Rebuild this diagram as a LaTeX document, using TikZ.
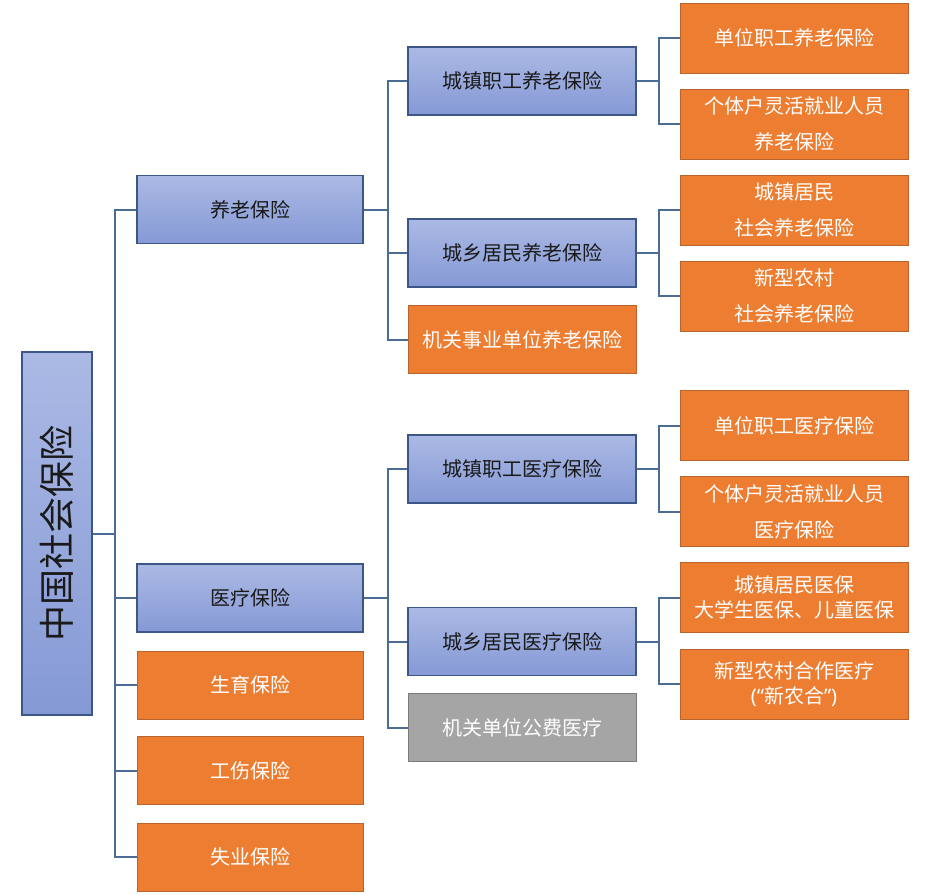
\documentclass[tikz,border=0pt]{standalone}
\usepackage{fontspec}
\usepackage{graphicx}
\setmainfont{Noto Sans CJK SC}
\newfontfamily\latinfont{Noto Sans}
\definecolor{btop}{HTML}{ABB9E4}
\definecolor{bbot}{HTML}{8599D5}
\definecolor{bline}{HTML}{3D5688}
\definecolor{ofill}{HTML}{ED7D31}
\definecolor{oline}{HTML}{B8642C}
\definecolor{gfill}{HTML}{A5A5A5}
\definecolor{gline}{HTML}{7B7B7B}
\definecolor{conn}{HTML}{4C6C98}
\definecolor{dtext}{HTML}{1A1A1A}
\tikzset{
  box/.style={rectangle, inner sep=0pt, align=center, font=\fontsize{20}{36}\selectfont},
  bluebox/.style={box, top color=btop, bottom color=bbot, draw=bline, line width=1.2pt, text=dtext},
  orangebox/.style={box, fill=ofill, draw=oline, line width=1pt, text=white},
  graybox/.style={box, fill=gfill, draw=gline, line width=1pt, text=white},
  lone/.style={minimum width=226, minimum height=68},
  ltwo/.style={minimum width=228, minimum height=68},
  lthree/.style={minimum width=228, minimum height=70},
  tight/.style={font=\fontsize{20}{25}\selectfont},
  conline/.style={draw=conn, line width=2pt}
}
\begin{document}
\begin{tikzpicture}[x=1pt,y=-1pt]
\useasboundingbox (0,0) rectangle (930,895);
% root
\node[bluebox, minimum width=70, minimum height=363, font=\fontsize{36}{40}\selectfont] (root) at (57,533.5) {\rotatebox{90}{中国社会保险}};
% level 1
\node[bluebox, lone] (yl) at (250,209.5) {养老保险};
\node[bluebox, lone] (yi) at (250,598) {医疗保险};
\node[orangebox, lone] (sy) at (250,685) {生育保险};
\node[orangebox, lone] (gs) at (250,770.5) {工伤保险};
\node[orangebox, lone] (sye) at (250,857) {失业保险};
% level 2
\node[bluebox, ltwo] (czyl) at (522,81) {城镇职工养老保险};
\node[bluebox, ltwo] (cxyl) at (522,253) {城乡居民养老保险};
\node[orangebox, ltwo] (jgyl) at (522,339.5) {机关事业单位养老保险};
\node[bluebox, ltwo] (czyi) at (522,469) {城镇职工医疗保险};
\node[bluebox, ltwo] (cxyi) at (522,641.5) {城乡居民医疗保险};
\node[graybox, ltwo] (jgyi) at (522,727.5) {机关单位公费医疗};
% level 3
\node[orangebox, lthree] (a1) at (794,38) {单位职工养老保险};
\node[orangebox, lthree] (a2) at (794,124) {个体户灵活就业人员\\养老保险};
\node[orangebox, lthree] (a3) at (794,210) {城镇居民\\社会养老保险};
\node[orangebox, lthree] (a4) at (794,296) {新型农村\\社会养老保险};
\node[orangebox, lthree] (b1) at (794,425.5) {单位职工医疗保险};
\node[orangebox, lthree] (b2) at (794,511.5) {个体户灵活就业人员\\医疗保险};
\node[orangebox, lthree, tight] (b3) at (794,597.5) {城镇居民医保\\大学生医保、儿童医保};
\node[orangebox, lthree, tight] (b4) at (794,684) {新型农村合作医疗\\{\latinfont(“}新农合{\latinfont”)}};
% connectors level 1
\foreach \c in {yl,yi,sy,gs,sye}
  \draw[conline] (root.east) -- ++(22,0) |- (\c.west);
% connectors level 2
\foreach \c in {czyl,cxyl,jgyl}
  \draw[conline] (yl.east) -- ++(24,0) |- (\c.west);
\foreach \c in {czyi,cxyi,jgyi}
  \draw[conline] (yi.east) -- ++(24,0) |- (\c.west);
% connectors level 3
\foreach \c in {a1,a2}
  \draw[conline] (czyl.east) -- ++(22,0) |- (\c.west);
\foreach \c in {a3,a4}
  \draw[conline] (cxyl.east) -- ++(22,0) |- (\c.west);
\foreach \c in {b1,b2}
  \draw[conline] (czyi.east) -- ++(22,0) |- (\c.west);
\foreach \c in {b3,b4}
  \draw[conline] (cxyi.east) -- ++(22,0) |- (\c.west);
\end{tikzpicture}
\end{document}
